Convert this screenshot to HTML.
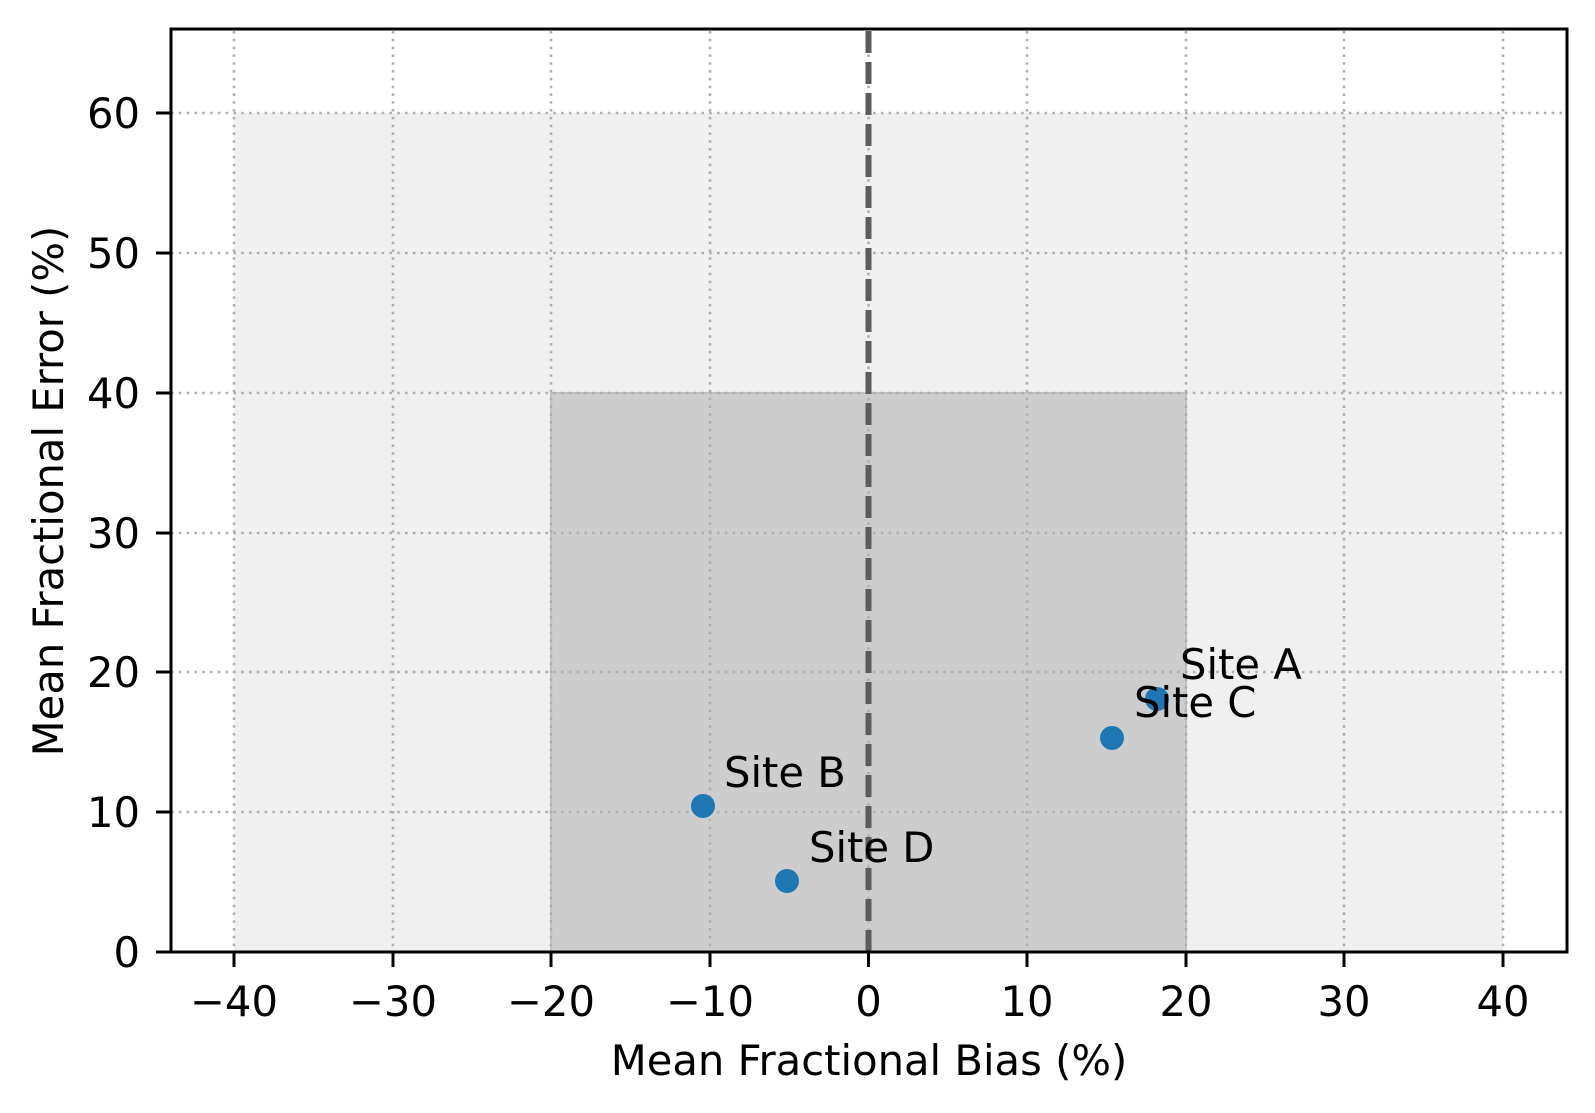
<!DOCTYPE html>
<html><head><meta charset="utf-8"><style>
html,body{margin:0;padding:0;background:#fff}
svg{display:block}
text{font-family:"DejaVu Sans","Liberation Sans",sans-serif;fill:#000}
</style></head><body>
<svg width="1595" height="1113" viewBox="0 0 1595 1113" xmlns="http://www.w3.org/2000/svg">
<rect x="0" y="0" width="1595" height="1113" fill="#fff"/>
<rect x="234" y="113" width="1269" height="839" fill="#f0f0f0"/>
<rect x="551" y="393" width="635" height="559" fill="#cdcdcd" stroke="#c0c0c0" stroke-width="2"/>
<g stroke="#b0b0b0" stroke-width="2.6" stroke-dasharray="2.6,5.2">
<line x1="234" y1="31" x2="234" y2="952"/>
<line x1="393" y1="31" x2="393" y2="952"/>
<line x1="551" y1="31" x2="551" y2="952"/>
<line x1="710" y1="31" x2="710" y2="952"/>
<line x1="868.5" y1="31" x2="868.5" y2="952"/>
<line x1="1027" y1="31" x2="1027" y2="952"/>
<line x1="1186" y1="31" x2="1186" y2="952"/>
<line x1="1344" y1="31" x2="1344" y2="952"/>
<line x1="1503" y1="31" x2="1503" y2="952"/>
<line x1="171" y1="113" x2="1567" y2="113"/>
<line x1="171" y1="253" x2="1567" y2="253"/>
<line x1="171" y1="393" x2="1567" y2="393"/>
<line x1="171" y1="533" x2="1567" y2="533"/>
<line x1="171" y1="672" x2="1567" y2="672"/>
<line x1="171" y1="812" x2="1567" y2="812"/>
</g>
<line x1="868.5" y1="31" x2="868.5" y2="952" stroke="#5c5c5c" stroke-width="6" stroke-dasharray="22,9"/>
<g fill="#1f77b4">
<circle cx="1157" cy="699" r="12"/>
<circle cx="1112" cy="738" r="12"/>
<circle cx="703" cy="806" r="12"/>
<circle cx="787" cy="881" r="12"/>
</g>
<g font-size="41.7">
<text x="1180" y="679">Site A</text>
<text x="1134" y="717">Site C</text>
<text x="724" y="787">Site B</text>
<text x="809" y="862">Site D</text>
</g>
<rect x="171" y="29" width="1396" height="923" fill="none" stroke="#000" stroke-width="3"/>
<g stroke="#000" stroke-width="3">
<line x1="234" y1="952" x2="234" y2="967"/>
<line x1="393" y1="952" x2="393" y2="967"/>
<line x1="551" y1="952" x2="551" y2="967"/>
<line x1="710" y1="952" x2="710" y2="967"/>
<line x1="868.5" y1="952" x2="868.5" y2="967"/>
<line x1="1027" y1="952" x2="1027" y2="967"/>
<line x1="1186" y1="952" x2="1186" y2="967"/>
<line x1="1344" y1="952" x2="1344" y2="967"/>
<line x1="1503" y1="952" x2="1503" y2="967"/>
<line x1="156" y1="113" x2="171" y2="113"/>
<line x1="156" y1="253" x2="171" y2="253"/>
<line x1="156" y1="393" x2="171" y2="393"/>
<line x1="156" y1="533" x2="171" y2="533"/>
<line x1="156" y1="672" x2="171" y2="672"/>
<line x1="156" y1="812" x2="171" y2="812"/>
<line x1="156" y1="952" x2="171" y2="952"/>
</g>
<g font-size="41.7" text-anchor="middle">
<text x="234" y="1016">−40</text>
<text x="393" y="1016">−30</text>
<text x="551" y="1016">−20</text>
<text x="710" y="1016">−10</text>
<text x="868.5" y="1016">0</text>
<text x="1027" y="1016">10</text>
<text x="1186" y="1016">20</text>
<text x="1344" y="1016">30</text>
<text x="1503" y="1016">40</text>
</g>
<g font-size="41.7" text-anchor="end">
<text x="140" y="128">60</text>
<text x="140" y="268">50</text>
<text x="140" y="408">40</text>
<text x="140" y="548">30</text>
<text x="140" y="687">20</text>
<text x="140" y="827">10</text>
<text x="140" y="967">0</text>
</g>
<text x="869" y="1075" font-size="41.7" text-anchor="middle">Mean Fractional Bias (%)</text>
<text transform="translate(63,491) rotate(-90)" font-size="41.7" text-anchor="middle">Mean Fractional Error (%)</text>
</svg>
</body></html>
